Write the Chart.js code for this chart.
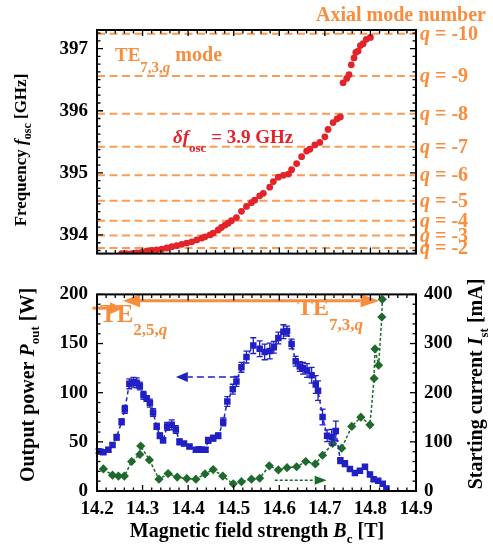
<!DOCTYPE html>
<html>
<head>
<meta charset="utf-8">
<script src="https://cdn.jsdelivr.net/npm/chart.js@4.4.1/dist/chart.umd.min.js"></script>
<style>
  html, body { margin: 0; padding: 0; background: #fff; }
  #wrap { position: relative; width: 493px; height: 549px; }
  canvas { position: absolute; left: 0; }
  #topChart { top: 0; }
  #bottomChart { top: 274px; }
</style>
</head>
<body>
<div id="wrap">
  <canvas id="topChart" width="493" height="274"></canvas>
  <canvas id="bottomChart" width="493" height="275"></canvas>
</div>
<script>
// ---- data ----
// oscillation frequency vs field (TE7,3,q)
const fieldFreq = [14.254, 14.265, 14.276, 14.287, 14.298, 14.309, 14.320, 14.331, 14.342, 14.353,
  14.364, 14.375, 14.386, 14.397, 14.408, 14.419, 14.430, 14.437, 14.448, 14.455,
  14.466, 14.473, 14.481, 14.488, 14.495, 14.506, 14.517, 14.528, 14.539, 14.546,
  14.557, 14.565, 14.579, 14.587, 14.598, 14.609, 14.620, 14.627, 14.638, 14.649,
  14.660, 14.667, 14.678, 14.689, 14.700, 14.707, 14.718, 14.727, 14.734, 14.740,
  14.748, 14.753, 14.758, 14.764, 14.768, 14.773, 14.778, 14.784, 14.791, 14.800];
const freq = [393.70, 393.70, 393.70, 393.71, 393.72, 393.74, 393.75, 393.76, 393.77, 393.79,
  393.81, 393.83, 393.85, 393.87, 393.89, 393.92, 393.95, 393.97, 394.00, 394.03,
  394.08, 394.12, 394.16, 394.19, 394.23, 394.28, 394.38, 394.46, 394.52, 394.56,
  394.63, 394.67, 394.77, 394.86, 394.93, 394.96, 394.98, 395.05, 395.15, 395.26,
  395.35, 395.38, 395.45, 395.49, 395.58, 395.70, 395.81, 395.87, 395.90, 396.45,
  396.52, 396.58, 396.74, 396.85, 396.94, 396.96, 397.05, 397.08, 397.15, 397.18];

// axial mode lines
const qNumbers = [-10, -9, -8, -7, -6, -5, -4, -3, -2];
const qFreq = [397.24, 396.56, 395.95, 395.42, 394.96, 394.55, 394.23, 393.99, 393.79];

// output power (W) with error
const fieldPow = [14.203, 14.208, 14.214, 14.225, 14.234, 14.243, 14.254, 14.261, 14.271, 14.280,
  14.287, 14.294, 14.302, 14.309, 14.316, 14.323, 14.331, 14.338, 14.345, 14.354,
  14.364, 14.373, 14.381, 14.391, 14.403, 14.417, 14.424, 14.430, 14.438, 14.444,
  14.455, 14.466, 14.477, 14.486, 14.498, 14.506, 14.517, 14.528, 14.543, 14.557,
  14.568, 14.579, 14.588, 14.598, 14.609, 14.617, 14.627, 14.636, 14.645, 14.652,
  14.661, 14.671, 14.680, 14.685, 14.695, 14.705, 14.715, 14.724, 14.734, 14.744,
  14.755, 14.766, 14.777, 14.788, 14.799, 14.807, 14.817, 14.827, 14.835];
const power = [40.5, 40.0, 39.5, 42.0, 46.7, 54.7, 70.4, 83.1, 109.0, 110.6,
  110.0, 106.8, 97.3, 94.1, 89.4, 79.9, 65.7, 56.2, 51.5, 65.7,
  67.3, 62.6, 50.0, 48.3, 45.2, 42.0, 42.5, 42.0, 42.0, 51.5,
  53.7, 56.2, 70.4, 91.0, 103.6, 111.5, 125.8, 136.2, 147.9, 144.7,
  141.5, 142.5, 146.3, 155.7, 162.1, 162.7, 149.5, 132.0, 126.7, 124.8,
  122.6, 117.8, 108.3, 102.1, 75.2, 56.2, 54.7, 61.0, 31.0, 27.8,
  22.4, 18.3, 20.5, 24.6, 16.8, 12.0, 10.4, 7.3, 2.6];
const powerErr = [2, 2, 2, 2, 2, 3, 3, 4, 5, 5,
  5, 4, 4, 3, 4, 4, 3, 3, 2, 4,
  5, 4, 3, 2, 2, 2, 2, 2, 2, 3,
  3, 3, 4, 5, 5, 5, 5, 6, 8, 8,
  8, 8, 6, 6, 7, 5, 5, 5, 5, 6,
  7, 8, 9, 10, 8, 6, 8, 10, 3, 3,
  2, 2, 2, 2, 2, 2, 2, 2, 2];

// starting current (mA)
const fieldIst = [14.214, 14.234, 14.247, 14.260, 14.276, 14.294, 14.296, 14.315, 14.336, 14.356,
  14.376, 14.397, 14.417, 14.437, 14.455, 14.476, 14.499, 14.517, 14.539, 14.557,
  14.578, 14.598, 14.617, 14.638, 14.658, 14.679, 14.695, 14.717, 14.737, 14.759,
  14.779, 14.799, 14.808, 14.810, 14.818, 14.825, 14.826];
const startCurrent = [44.9, 32.2, 30.3, 30.3, 60.0, 74.5, 91.6, 63.2, 24.0, 35.4,
  28.4, 25.3, 24.0, 34.8, 43.6, 30.3, 14.5, 19.0, 24.0, 25.9,
  51.2, 42.9, 47.4, 49.3, 60.0, 55.0, 72.7, 96.7, 87.2, 131.4,
  150.3, 134.6, 229, 289, 256, 354, 390];

// ---- styling helpers ----
const SERIF = '"Liberation Serif", "Times New Roman", serif';
const ORANGE = '#f98d3e';
const ORANGE_LINE = '#fb9c55';
const RED = '#e3232a';
const BLUE = '#2020c4';
const GREEN = '#1d6a2c';

function P(t, size, italic, dy) {
  return { t: t, font: (italic ? 'italic ' : '') + 'bold ' + size + 'px ' + SERIF, dy: dy || 0 };
}

// draw a run of text pieces (for sub/italics)
function rich(ctx, x, y, parts, align, angle, color) {
  ctx.save();
  ctx.translate(x, y);
  if (angle) ctx.rotate(angle);
  ctx.fillStyle = color;
  ctx.textBaseline = 'alphabetic';
  ctx.textAlign = 'left';
  let w = 0;
  parts.forEach(p => { ctx.font = p.font; p.w = ctx.measureText(p.t).width; w += p.w; });
  let cx = align === 'center' ? -w / 2 : (align === 'right' ? -w : 0);
  parts.forEach(p => { ctx.font = p.font; ctx.fillText(p.t, cx, p.dy); cx += p.w; });
  ctx.restore();
}

// inward ticks on the frame
function frameTicks(ctx, scale, area, major, minor, sides) {
  const n = Math.round((scale.max - scale.min) / minor) + 2;
  const start = Math.ceil(scale.min / minor - 1e-6) * minor;
  ctx.save();
  ctx.strokeStyle = '#000';
  ctx.lineWidth = 1.3;
  for (let i = 0; i < n; i++) {
    const v = start + i * minor;
    if (v > scale.max + 1e-9) break;
    const r = v / major;
    const len = Math.abs(r - Math.round(r)) < 1e-6 ? 6 : 3.5;
    const p = scale.getPixelForValue(v);
    ctx.beginPath();
    sides.forEach(s => {
      if (s === 'bottom') { ctx.moveTo(p, area.bottom); ctx.lineTo(p, area.bottom - len); }
      if (s === 'top') { ctx.moveTo(p, area.top); ctx.lineTo(p, area.top + len); }
      if (s === 'left') { ctx.moveTo(area.left, p); ctx.lineTo(area.left + len, p); }
      if (s === 'right') { ctx.moveTo(area.right, p); ctx.lineTo(area.right - len, p); }
    });
    ctx.stroke();
  }
  ctx.restore();
}

function frame(ctx, area) {
  ctx.save();
  ctx.strokeStyle = '#000';
  ctx.lineWidth = 2;
  ctx.strokeRect(area.left, area.top, area.right - area.left, area.bottom - area.top);
  ctx.restore();
}

function arrow(ctx, x1, y1, x2, y2, color, width, dash, headLen, headHalf) {
  const a = Math.atan2(y2 - y1, x2 - x1);
  const bx = x2 - Math.cos(a) * headLen, by = y2 - Math.sin(a) * headLen;
  ctx.save();
  ctx.strokeStyle = color;
  ctx.fillStyle = color;
  ctx.lineWidth = width;
  ctx.setLineDash(dash);
  ctx.beginPath();
  ctx.moveTo(x1, y1);
  ctx.lineTo(bx, by);
  ctx.stroke();
  ctx.setLineDash([]);
  ctx.beginPath();
  ctx.moveTo(x2, y2);
  ctx.lineTo(bx - Math.sin(a) * headHalf, by + Math.cos(a) * headHalf);
  ctx.lineTo(bx + Math.sin(a) * headHalf, by - Math.cos(a) * headHalf);
  ctx.closePath();
  ctx.fill();
  ctx.restore();
}

const tickFont = { family: SERIF, size: 19, weight: 'bold' };

// ---- top panel ----
const topDecor = {
  id: 'topDecor',
  beforeDatasetsDraw(chart) {
    const ctx = chart.ctx, a = chart.chartArea, y = chart.scales.y;
    ctx.save();
    ctx.strokeStyle = ORANGE_LINE;
    ctx.lineWidth = 2;
    ctx.setLineDash([8, 4.5]);
    qFreq.forEach(f => {
      const py = y.getPixelForValue(f);
      ctx.beginPath();
      ctx.moveTo(a.left, py);
      ctx.lineTo(a.right, py);
      ctx.stroke();
    });
    ctx.restore();
  },
  afterDraw(chart) {
    const ctx = chart.ctx, a = chart.chartArea, y = chart.scales.y, x = chart.scales.x;
    frame(ctx, a);
    frameTicks(ctx, x, a, 0.1, 0.02, ['top', 'bottom']);
    frameTicks(ctx, y, a, 1, 0.125, ['left', 'right']);
    qNumbers.forEach((q, i) => {
      const py = y.getPixelForValue(qFreq[i]);
      rich(ctx, a.right + 4, py + 6, [P('q', 20, true), P(' = ' + q, 20)], 'left', 0, ORANGE);
    });
    rich(ctx, 486, 21, [P('Axial mode number', 20)], 'right', 0, ORANGE);
    rich(ctx, 115, 61, [P('TE', 19), P('7,3,', 15, false, 11), P('q', 15, true, 11), P(' mode', 20)], 'left', 0, ORANGE);
    rich(ctx, 173, 143, [P('\u03b4f', 19, true), P('osc', 13, false, 9), P(' = 3.9 GHz', 19)], 'left', 0, RED);
    rich(ctx, 26, 150, [P('Frequency ', 17), P('f', 17, true), P('osc', 12, false, 5), P(' [GHz]', 17)], 'center', -Math.PI / 2, '#000');
  }
};

new Chart(document.getElementById('topChart'), {
  type: 'scatter',
  data: {
    datasets: [{
      data: fieldFreq.map((b, i) => ({ x: b, y: freq[i] })),
      backgroundColor: RED,
      borderColor: RED,
      pointRadius: 3.4,
      pointBorderWidth: 0
    }]
  },
  options: {
    responsive: false,
    animation: false,
    devicePixelRatio: 1,
    layout: { padding: { top: 30, bottom: 6, right: 77, left: 0 } },
    plugins: { legend: { display: false }, tooltip: { enabled: false } },
    scales: {
      x: { type: 'linear', min: 14.2, max: 14.9, display: false },
      y: {
        type: 'linear', min: 393.7, max: 397.3,
        afterFit(s) { s.width = 97; },
        grid: { display: false, drawTicks: false },
        border: { display: false },
        ticks: { stepSize: 1, includeBounds: false, padding: 9, color: '#000', font: tickFont }
      }
    }
  },
  plugins: [topDecor]
});

// ---- bottom panel ----
const bottomDecor = {
  id: 'bottomDecor',
  afterDatasetsDraw(chart) {
    const ctx = chart.ctx, x = chart.scales.x, yP = chart.scales.yP, yI = chart.scales.yI;
    // error bars on output power
    ctx.save();
    ctx.strokeStyle = BLUE;
    ctx.lineWidth = 1.3;
    fieldPow.forEach((b, i) => {
      const px = x.getPixelForValue(b);
      const t = yP.getPixelForValue(power[i] + powerErr[i]);
      const u = yP.getPixelForValue(power[i] - powerErr[i]);
      ctx.beginPath();
      ctx.moveTo(px, t); ctx.lineTo(px, u);
      ctx.moveTo(px - 3, t); ctx.lineTo(px + 3, t);
      ctx.moveTo(px - 3, u); ctx.lineTo(px + 3, u);
      ctx.stroke();
    });
    ctx.restore();
    // arrows pointing to each axis
    arrow(ctx, x.getPixelForValue(14.507), yP.getPixelForValue(116), x.getPixelForValue(14.373), yP.getPixelForValue(116), BLUE, 1.6, [7, 4], 12, 5);
    arrow(ctx, x.getPixelForValue(14.590), yI.getPixelForValue(22), x.getPixelForValue(14.704), yI.getPixelForValue(22), GREEN, 1.6, [3, 2], 12, 4.5);
    // TE mode ranges
    const yTop = yP.getPixelForValue(193.5);
    const xa = x.getPixelForValue(14.257), xb = x.getPixelForValue(14.82);
    arrow(ctx, (xa + xb) / 2, yTop, xb, yTop, ORANGE, 3, [], 19, 6.5);
    arrow(ctx, (xa + xb) / 2, yTop, xa, yTop, ORANGE, 3, [], 17, 6.5);
    const y2 = yP.getPixelForValue(186);
    arrow(ctx, x.getPixelForValue(14.19), y2, x.getPixelForValue(14.257), y2, ORANGE, 3, [], 13, 6);
  },
  afterDraw(chart) {
    const ctx = chart.ctx, a = chart.chartArea;
    frame(ctx, a);
    frameTicks(ctx, chart.scales.x, a, 0.1, 0.02, ['top', 'bottom']);
    frameTicks(ctx, chart.scales.yP, a, 50, 10, ['left']);
    frameTicks(ctx, chart.scales.yI, a, 100, 20, ['right']);
    rich(ctx, 100, 48, [P('TE', 25), P('2,5,', 17, false, 13), P('q', 17, true, 13)], 'left', 0, ORANGE);
    rich(ctx, 297, 41, [P('TE', 24), P('7,3,', 17, false, 15), P('q', 17, true, 15)], 'left', 0, ORANGE);
    rich(ctx, 34, 111, [P('Output power ', 20), P('P', 20, true), P('out', 13, false, 5), P(' [W]', 20)], 'center', -Math.PI / 2, '#000');
    rich(ctx, 482, 110, [P('Starting current ', 20), P('I', 20, true), P('st', 13, false, 6), P(' [mA]', 20)], 'center', -Math.PI / 2, '#000');
    rich(ctx, 257, 263, [P('Magnetic field strength ', 20), P('B', 20, true), P('c', 13, false, 6), P(' [T]', 20)], 'center', 0, '#000');
  }
};

new Chart(document.getElementById('bottomChart'), {
  type: 'scatter',
  data: {
    datasets: [{
      data: fieldPow.map((b, i) => ({ x: b, y: power[i] })),
      yAxisID: 'yP',
      showLine: true,
      borderColor: BLUE,
      backgroundColor: BLUE,
      borderWidth: 1.5,
      borderDash: [4, 3],
      pointStyle: 'rect',
      pointRadius: 4.6,
      pointBorderWidth: 0
    }, {
      data: fieldIst.map((b, i) => ({ x: b, y: startCurrent[i] })),
      yAxisID: 'yI',
      showLine: true,
      borderColor: GREEN,
      backgroundColor: GREEN,
      borderWidth: 1.5,
      borderDash: [3, 2],
      pointStyle: 'rectRot',
      pointRadius: 4.6,
      pointBorderWidth: 0
    }]
  },
  options: {
    responsive: false,
    animation: false,
    devicePixelRatio: 1,
    layout: { padding: { top: 6, bottom: 0, right: 0, left: 0 } },
    plugins: { legend: { display: false }, tooltip: { enabled: false } },
    scales: {
      x: {
        type: 'linear', min: 14.2, max: 14.9,
        afterFit(s) { s.height = 58; },
        grid: { display: false, drawTicks: false },
        border: { display: false },
        ticks: {
          stepSize: 0.1, includeBounds: false, autoSkip: false, maxRotation: 0, padding: 7,
          color: '#000', font: tickFont,
          callback: v => v.toFixed(1)
        }
      },
      yP: {
        type: 'linear', position: 'left', min: 0, max: 200,
        afterFit(s) { s.width = 97; },
        grid: { display: false, drawTicks: false },
        border: { display: false },
        ticks: { stepSize: 50, padding: 9, color: '#000', font: tickFont }
      },
      yI: {
        type: 'linear', position: 'right', min: 0, max: 400,
        afterFit(s) { s.width = 77; },
        grid: { display: false, drawTicks: false },
        border: { display: false },
        ticks: { stepSize: 100, padding: 8, color: '#000', font: tickFont }
      }
    }
  },
  plugins: [bottomDecor]
});
</script>
</body>
</html>
